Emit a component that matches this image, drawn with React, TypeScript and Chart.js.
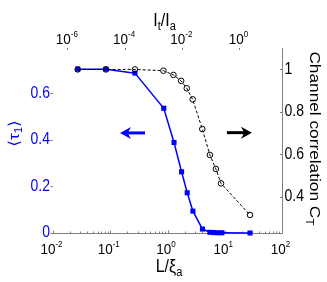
import React, { useEffect, useRef } from "react";
import { Chart, registerables } from "chart.js";

Chart.register(...registerables);

// ---- data ----
const blueX = [0.027, 0.084, 0.27, 0.86, 1.3, 1.76, 2.21, 2.78, 4.08, 5.5, 6.4, 7.5, 8.9, 27.6];
const blueTau = [0.704, 0.704, 0.687, 0.536, 0.389, 0.263, 0.173, 0.094, 0.017, 0.003, 0.002, 0.001, 0.001, 0.0];
const blackX = [0.027, 0.084, 0.27, 0.85, 1.27, 1.73, 2.17, 2.75, 4.05, 5.5, 7.0, 8.6, 27.6];
const blackCorr = [1.0, 1.0, 1.0, 0.994, 0.974, 0.946, 0.911, 0.859, 0.719, 0.597, 0.531, 0.463, 0.314];

const leftTicks = [0, 0.2, 0.4, 0.6];
const leftTickLabels = ["0", "0.2", "0.4", "0.6"];
const rightTicks = [0.4, 0.6, 0.8, 1];
const rightTickLabels = ["0.4", "0.6", "0.8", "1"];
const bottomExps = [-2, -1, 0, 1, 2];
const topExps = [-6, -4, -2, 0];

const bottomRange = [0.01, 100];
const topRange = [3.162e-7, 31.62];
const leftRange = [0, 0.795];
const rightRange = [0.229, 1.101];

// annotation arrows (data coordinates)
const blueArrow = { from: 0.405, to: 0.148, y: 0.43 };
const blackArrow = { from: 10.9, to: 29.9, y: 0.702 };

const FONT = '"Liberation Sans", Arial, "DejaVu Sans", sans-serif';
const AXIS = "#808080";
const BLUE = "#0000ff";
const SY = 1.15;

type Part = { t: string; s: number; dy: number };

function rich(
  ctx: CanvasRenderingContext2D,
  parts: Part[],
  x: number,
  y: number,
  color: string,
  rot = 0,
  stretchAlong = 1,
  stretchAcross = SY,
  align: "center" | "left" | "right" = "center",
  baseline: CanvasTextBaseline = "alphabetic"
) {
  ctx.save();
  ctx.translate(x, y);
  if (rot) ctx.rotate(rot);
  ctx.scale(stretchAlong, stretchAcross);
  ctx.fillStyle = color;
  ctx.textBaseline = baseline;
  ctx.textAlign = "left";
  let total = 0;
  const widths = parts.map((p) => {
    ctx.font = `${p.s}px ${FONT}`;
    const w = ctx.measureText(p.t).width;
    total += w;
    return w;
  });
  let cx = align === "center" ? -total / 2 : align === "right" ? -total : 0;
  parts.forEach((p, i) => {
    ctx.font = `${p.s}px ${FONT}`;
    ctx.fillText(p.t, cx, p.dy / stretchAcross);
    cx += widths[i];
  });
  ctx.restore();
}

function line(ctx: CanvasRenderingContext2D, x1: number, y1: number, x2: number, y2: number) {
  ctx.beginPath();
  ctx.moveTo(x1, y1);
  ctx.lineTo(x2, y2);
  ctx.stroke();
}

function arrow(ctx: CanvasRenderingContext2D, xTail: number, xTip: number, y: number, color: string) {
  const dir = Math.sign(xTip - xTail);
  const L = 11;
  const h = 6;
  ctx.save();
  ctx.strokeStyle = color;
  ctx.fillStyle = color;
  ctx.lineWidth = 3;
  line(ctx, xTail, y, xTip - dir * L * 0.6, y);
  ctx.beginPath();
  ctx.moveTo(xTip, y);
  ctx.lineTo(xTip - dir * L, y - h);
  ctx.lineTo(xTip - dir * L * 0.7, y);
  ctx.lineTo(xTip - dir * L, y + h);
  ctx.closePath();
  ctx.fill();
  ctx.restore();
}

const axesPlugin = {
  id: "matlabAxes",
  beforeDatasetsDraw(chart: any) {
    const ctx: CanvasRenderingContext2D = chart.ctx;
    const a = chart.chartArea;
    const sx = chart.scales.x;
    const sx2 = chart.scales.x2;
    const yl = chart.scales.yL;
    const yr = chart.scales.yR;
    ctx.save();
    ctx.strokeStyle = AXIS;
    ctx.lineWidth = 1;
    const by = a.bottom + 0.5;
    const rx = a.right + 0.5;
    line(ctx, a.left, by, rx, by);
    line(ctx, rx, a.top, rx, by);
    bottomExps.forEach((e) => {
      const px = Math.round(sx.getPixelForValue(Math.pow(10, e))) + 0.5;
      line(ctx, px, by, px, by - 3);
      if (e < bottomExps[bottomExps.length - 1]) {
        for (let m = 2; m <= 9; m++) {
          const mx = Math.round(sx.getPixelForValue(m * Math.pow(10, e))) + 0.5;
          line(ctx, mx, by, mx, by - 2);
        }
      }
    });
    topExps.forEach((e) => {
      const px = Math.round(sx2.getPixelForValue(Math.pow(10, e))) + 0.5;
      line(ctx, px, a.top, px, a.top + 2);
    });
    leftTicks.forEach((v) => {
      const py = Math.round(yl.getPixelForValue(v)) + 0.5;
      line(ctx, a.left - 2.5, py, a.left, py);
    });
    rightTicks.forEach((v) => {
      const py = Math.round(yr.getPixelForValue(v)) + 0.5;
      line(ctx, a.right - 2, py, a.right, py);
    });
    ctx.restore();
  },
  afterDatasetsDraw(chart: any) {
    const ctx: CanvasRenderingContext2D = chart.ctx;
    const a = chart.chartArea;
    const sx = chart.scales.x;
    const sx2 = chart.scales.x2;
    const yl = chart.scales.yL;
    const yr = chart.scales.yR;

    // left tick labels (blue)
    leftTicks.forEach((v, i) => {
      rich(ctx, [{ t: leftTickLabels[i], s: 14, dy: 0 }], a.left - 3, yl.getPixelForValue(v), BLUE, 0, 1, SY, "right", "middle");
    });
    // right tick labels
    rightTicks.forEach((v, i) => {
      rich(ctx, [{ t: rightTickLabels[i], s: 14, dy: 0 }], a.right + 2.5, yr.getPixelForValue(v), "#000", 0, 1, SY, "left", "middle");
    });
    // bottom tick labels
    bottomExps.forEach((e) => {
      const px = sx.getPixelForValue(Math.pow(10, e));
      rich(ctx, [{ t: "10", s: 13.5, dy: 0 }, { t: String(e), s: 8, dy: -7 }], px - 1.5, a.bottom + 21, "#000");
    });
    // top tick labels
    topExps.forEach((e) => {
      const px = sx2.getPixelForValue(Math.pow(10, e));
      rich(ctx, [{ t: "10", s: 13.5, dy: 0 }, { t: String(e), s: 8, dy: -7 }], px - 0.5, a.top - 4, "#000");
    });
    // top title I_t/I_a
    rich(
      ctx,
      [
        { t: "I", s: 16, dy: 0 },
        { t: "t", s: 11, dy: 4 },
        { t: "/I", s: 16, dy: 0 },
        { t: "a", s: 11, dy: 4 },
      ],
      (a.left + a.right) / 2 - 3,
      26,
      "#000"
    );
    // bottom title L/ξ_a
    rich(
      ctx,
      [
        { t: "L/ξ", s: 16, dy: 0 },
        { t: "a", s: 11, dy: 4 },
      ],
      (a.left + a.right) / 2 + 1.5,
      a.bottom + 39,
      "#000"
    );
    // right title
    rich(
      ctx,
      [
        { t: "Channel correlation C", s: 15, dy: 0 },
        { t: "T", s: 10.5, dy: 4 },
      ],
      310,
      (a.top + a.bottom) / 2 - 2,
      "#000",
      Math.PI / 2,
      1.15,
      1
    );
    // left title <tau_1>
    rich(
      ctx,
      [
        { t: "⟨τ", s: 15, dy: 0 },
        { t: "1", s: 10, dy: 3 },
        { t: "⟩", s: 15, dy: 0 },
      ],
      19,
      133.5,
      BLUE,
      -Math.PI / 2,
      1.15,
      1
    );

    // arrows
    arrow(ctx, sx.getPixelForValue(blueArrow.from), sx.getPixelForValue(blueArrow.to), yl.getPixelForValue(blueArrow.y), BLUE);
    arrow(ctx, sx.getPixelForValue(blackArrow.from), sx.getPixelForValue(blackArrow.to), yr.getPixelForValue(blackArrow.y), "#000");
  },
};

export default function App() {
  const ref = useRef<HTMLCanvasElement>(null);
  useEffect(() => {
    document.body.style.margin = "0";
    const canvas = ref.current!;
    const chart = new Chart(canvas, {
      type: "line",
      data: {
        datasets: [
          {
            label: "Channel correlation C_T",
            data: blackX.map((x, i) => ({ x, y: blackCorr[i] })),
            xAxisID: "x",
            yAxisID: "yR",
            borderColor: "#000",
            borderWidth: 1,
            borderDash: [3, 2],
            pointStyle: "circle",
            pointRadius: 2.8,
            pointBorderWidth: 1,
            pointBorderColor: "#000",
            pointBackgroundColor: "rgba(0,0,0,0)",
            tension: 0,
            fill: false,
            clip: false,
          } as any,
          {
            label: "<tau_1>",
            data: blueX.map((x, i) => ({ x, y: blueTau[i] })),
            xAxisID: "x",
            yAxisID: "yL",
            borderColor: BLUE,
            borderWidth: 1.5,
            pointStyle: "rect",
            pointRadius: 3.6,
            pointBorderWidth: 0,
            pointBorderColor: BLUE,
            pointBackgroundColor: BLUE,
            tension: 0,
            fill: false,
            clip: false,
          } as any,
        ],
      },
      options: {
        responsive: false,
        animation: false,
        events: [],
        layout: { padding: { left: 53, right: 45, top: 48, bottom: 49 } },
        plugins: { legend: { display: false }, tooltip: { enabled: false } },
        scales: {
          x: { type: "logarithmic", min: bottomRange[0], max: bottomRange[1], display: false },
          x2: { type: "logarithmic", position: "top", min: topRange[0], max: topRange[1], display: false },
          yL: { type: "linear", position: "left", min: leftRange[0], max: leftRange[1], display: false },
          yR: { type: "linear", position: "right", min: rightRange[0], max: rightRange[1], display: false },
        },
      } as any,
      plugins: [axesPlugin],
    });
    return () => chart.destroy();
  }, []);
  return <canvas ref={ref} width={327} height={282} style={{ display: "block" }} />;
}
